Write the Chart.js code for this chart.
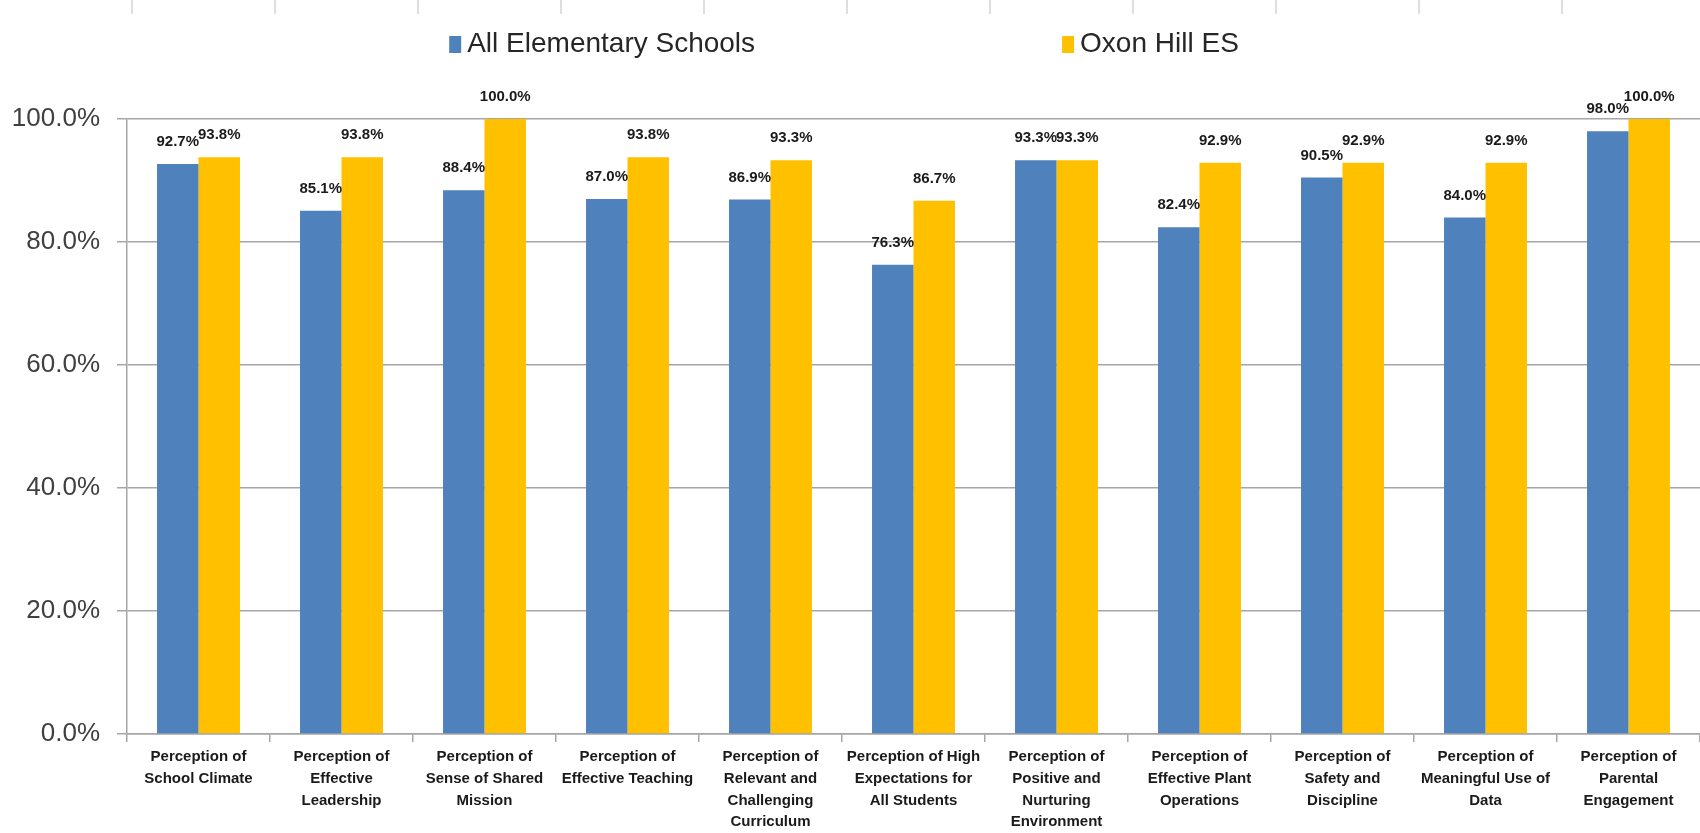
<!DOCTYPE html>
<html lang="en">
<head>
    <meta charset="UTF-8">
    <script src="https://cdn.jsdelivr.net/npm/chart.js"></script>
    <title>Perception survey</title>
    <style>
        html, body { margin: 0; padding: 0; background: #fff; overflow: hidden; }
        canvas { display: block; }
    </style>
</head>
<body>
    <canvas id="grafico" width="1700" height="833"></canvas>
    <script>
        const categorias = [
            ["Perception of", "School Climate"],
            ["Perception of", "Effective", "Leadership"],
            ["Perception of", "Sense of Shared", "Mission"],
            ["Perception of", "Effective Teaching"],
            ["Perception of", "Relevant and", "Challenging", "Curriculum"],
            ["Perception of High", "Expectations for", "All Students"],
            ["Perception of", "Positive and", "Nurturing", "Environment"],
            ["Perception of", "Effective Plant", "Operations"],
            ["Perception of", "Safety and", "Discipline"],
            ["Perception of", "Meaningful Use of", "Data"],
            ["Perception of", "Parental", "Engagement"]
        ];
        const todasEscolas = [92.7, 85.1, 88.4, 87.0, 86.9, 76.3, 93.3, 82.4, 90.5, 84.0, 98.0];
        const oxonHill = [93.8, 93.8, 100.0, 93.8, 93.3, 86.7, 93.3, 92.9, 92.9, 92.9, 100.0];
        const ticksY = [0, 20, 40, 60, 80, 100];

        const fonte = "'Liberation Sans', Arial, sans-serif";

        // rótulos dos valores em cima das barras
        const rotulos = {
            id: 'rotulos',
            afterDatasetsDraw(chart) {
                const ctx = chart.ctx;
                ctx.save();
                ctx.font = "bold 15px " + fonte;
                ctx.fillStyle = '#1a1a1a';
                ctx.textAlign = 'center';
                ctx.textBaseline = 'middle';
                chart.data.datasets.forEach((ds, i) => {
                    chart.getDatasetMeta(i).data.forEach((barra, j) => {
                        ctx.fillText(ds.data[j].toFixed(1) + '%', barra.x, barra.y - 22);
                    });
                });
                ctx.restore();
            }
        };

        // legenda desenhada a mão (itens bem afastados)
        const legenda = {
            id: 'legenda',
            afterDraw(chart) {
                const ctx = chart.ctx;
                ctx.save();
                ctx.font = "28px " + fonte;
                ctx.textBaseline = 'middle';
                const caixa = 12, espaco = 6, vao = 307;
                const larguras = chart.data.datasets.map(ds => ctx.measureText(ds.label).width);
                const total = larguras.reduce((a, b) => a + b, 0) + 2 * (caixa + espaco) + vao;
                let x = chart.width / 2 - 6 - total / 2;
                const y = 44;
                chart.data.datasets.forEach((ds, i) => {
                    ctx.fillStyle = ds.backgroundColor;
                    ctx.fillRect(x, y - 8, caixa, 17);
                    ctx.fillStyle = '#262626';
                    ctx.fillText(ds.label, x + caixa + espaco, y);
                    x += caixa + espaco + larguras[i] + vao;
                });
                ctx.restore();
            }
        };

        // marquinhas cinzas no topo
        const marcasTopo = {
            id: 'marcasTopo',
            afterDraw(chart) {
                const ctx = chart.ctx;
                const xs = chart.scales.x;
                const passo = xs.getPixelForValue(1) - xs.getPixelForValue(0);
                ctx.save();
                ctx.strokeStyle = '#d4d4d4';
                ctx.lineWidth = 1.5;
                for (let i = 0; i <= categorias.length; i++) {
                    const x = xs.getPixelForValue(i) - passo / 2 + 5;
                    ctx.beginPath();
                    ctx.moveTo(x, 0);
                    ctx.lineTo(x, 14);
                    ctx.stroke();
                }
                ctx.restore();
            }
        };

        const grafico = new Chart(document.getElementById('grafico'), {
            type: 'bar',
            data: {
                labels: categorias,
                datasets: [{
                    label: 'All Elementary Schools',
                    data: todasEscolas,
                    backgroundColor: '#4F81BD'
                }, {
                    label: 'Oxon Hill ES',
                    data: oxonHill,
                    backgroundColor: '#FFC000'
                }]
            },
            options: {
                responsive: false,
                animation: false,
                devicePixelRatio: 1,
                layout: { padding: { top: 119, left: 0, right: 0, bottom: 0 } },
                datasets: { bar: { categoryPercentage: 0.58, barPercentage: 1.0 } },
                plugins: {
                    legend: { display: false },
                    tooltip: { enabled: false }
                },
                scales: {
                    x: {
                        offset: true,
                        afterFit(scale) { scale.height = 99; },
                        grid: { offset: true, drawOnChartArea: false, tickLength: 8, color: '#a6a6a6', lineWidth: 1.5 },
                        border: { color: '#a6a6a6', width: 1.5 },
                        ticks: {
                            autoSkip: false,
                            maxRotation: 0,
                            padding: 4,
                            color: '#1a1a1a',
                            font: { family: fonte, size: 15, weight: 'bold', lineHeight: 1.45 }
                        }
                    },
                    y: {
                        min: 0,
                        max: 100,
                        afterFit(scale) { scale.width = 127; },
                        afterBuildTicks(scale) { scale.ticks = ticksY.map(v => ({ value: v })); },
                        grid: { tickLength: 10, color: '#a6a6a6', lineWidth: 1.5 },
                        border: { color: '#a6a6a6', width: 1.5 },
                        ticks: {
                            padding: 17,
                            color: '#404040',
                            font: { family: fonte, size: 26 },
                            callback: v => v.toFixed(1) + '%'
                        }
                    }
                }
            },
            plugins: [rotulos, legenda, marcasTopo]
        });
    </script>
</body>
</html>
